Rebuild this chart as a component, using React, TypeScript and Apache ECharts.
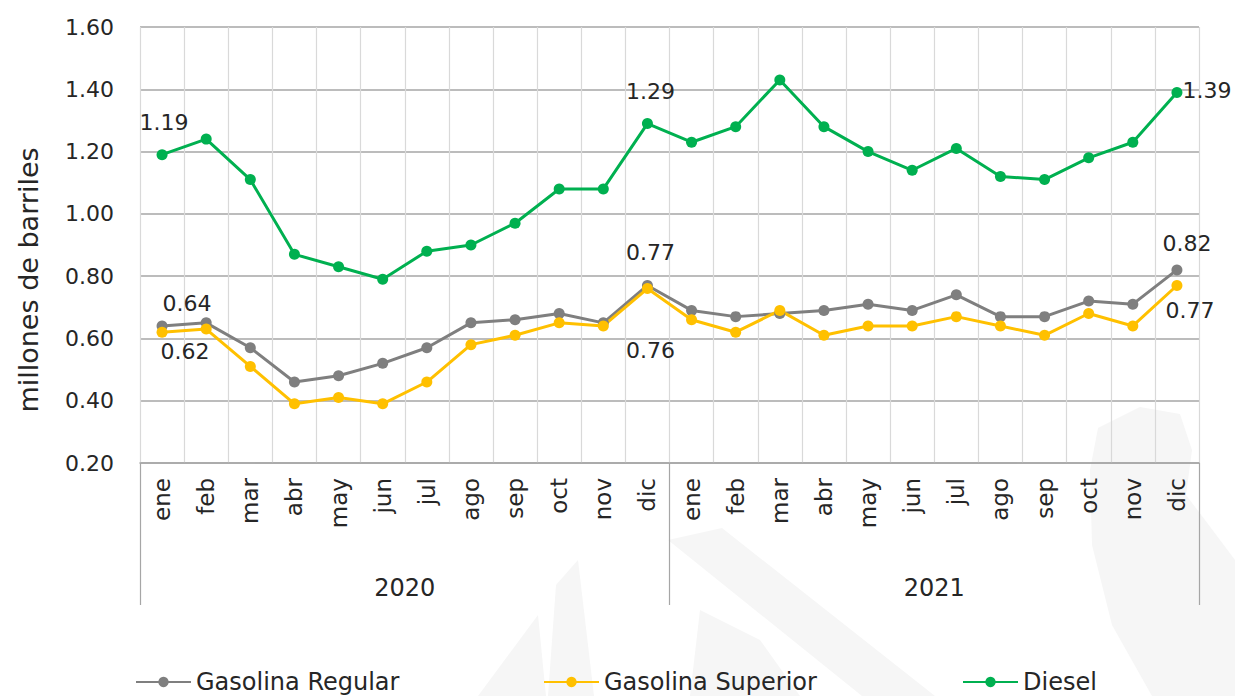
import React, { useEffect, useRef } from "react";
import * as echarts from "echarts";

const months = ["ene","feb","mar","abr","may","jun","jul","ago","sep","oct","nov","dic","ene","feb","mar","abr","may","jun","jul","ago","sep","oct","nov","dic"];
const years = ["2020", "2021"];
const yTicks = { min: 0.2, max: 1.6, interval: 0.2 };

const regular = [0.64,0.65,0.57,0.46,0.48,0.52,0.57,0.65,0.66,0.68,0.65,0.77,0.69,0.67,0.68,0.69,0.71,0.69,0.74,0.67,0.67,0.72,0.71,0.82];
const superior = [0.62,0.63,0.51,0.39,0.41,0.39,0.46,0.58,0.61,0.65,0.64,0.76,0.66,0.62,0.69,0.61,0.64,0.64,0.67,0.64,0.61,0.68,0.64,0.77];
const diesel = [1.19,1.24,1.11,0.87,0.83,0.79,0.88,0.90,0.97,1.08,1.08,1.29,1.23,1.28,1.43,1.28,1.20,1.14,1.21,1.12,1.11,1.18,1.23,1.39];

const seriesNames = ["Gasolina Regular", "Gasolina Superior", "Diesel"];
const seriesColors = ["#7f7f7f", "#ffc000", "#00b050"];

// labelled points: index -> offset [dx, dy] from point centre
const regularLabels: Record<number, number[]> = { 0: [25, -22], 11: [3, -33], 23: [10, -26] };
const superiorLabels: Record<number, number[]> = { 0: [23, 19], 11: [3, 62], 23: [13, 25] };
const dieselLabels: Record<number, number[]> = { 0: [2, -32], 11: [3, -32], 23: [30, -2] };

const FONT = "DejaVu Sans";

function buildData(values: number[], labels: Record<number, number[]>) {
  return values.map((v, i) =>
    labels[i]
      ? {
          value: v,
          label: {
            show: true,
            position: "inside",
            offset: labels[i],
            formatter: (p: any) => Number(p.value).toFixed(2),
            color: "#262626",
            fontSize: 22,
            fontFamily: FONT,
          },
        }
      : v
  );
}

export default function App() {
  const ref = useRef<HTMLDivElement>(null);
  useEffect(() => {
    if (!ref.current) return;
    const chart = echarts.init(ref.current, undefined, { renderer: "svg" });
    const wm = "#f6f6f6";
    const mkLine = (name: string, color: string, data: any[]) => ({
      name,
      type: "line",
      data,
      xAxisIndex: 0,
      symbol: "circle",
      symbolSize: 11,
      lineStyle: { color, width: 3 },
      itemStyle: { color },
      z: 3,
    });
    const legendBase = {
      top: 670,
      padding: 0,
      itemWidth: 55,
      itemHeight: 13,
      textStyle: { fontSize: 24, fontFamily: FONT, color: "#262626" },
    };
    chart.setOption({
      animation: false,
      backgroundColor: "#ffffff",
      textStyle: { fontFamily: FONT },
      grid: { left: 140, right: 36, top: 27, bottom: 233, containLabel: false },
      graphic: [
        { type: "polygon", z: -10, silent: true, shape: { points: [[668, 540], [722, 528], [935, 696], [862, 696]] }, style: { fill: wm } },
        { type: "polygon", z: -10, silent: true, shape: { points: [[548, 696], [556, 585], [578, 560], [594, 696]] }, style: { fill: wm } },
        { type: "polygon", z: -10, silent: true, shape: { points: [[478, 696], [538, 615], [546, 696]] }, style: { fill: wm } },
        { type: "polygon", z: -10, silent: true, shape: { points: [[700, 610], [760, 640], [800, 696], [690, 696]] }, style: { fill: wm } },
        { type: "polygon", z: -10, silent: true, shape: { points: [[1090, 470], [1098, 428], [1140, 407], [1180, 414], [1192, 450], [1186, 495], [1205, 520], [1235, 560], [1235, 696], [1152, 696], [1112, 625], [1092, 545]] }, style: { fill: wm } },
        {
          type: "text",
          x: 28,
          y: 280,
          rotation: Math.PI / 2,
          style: {
            text: "millones de barriles",
            fontSize: 27,
            fontFamily: FONT,
            fill: "#262626",
            align: "center",
            verticalAlign: "middle",
          },
        },
      ],
      legend: [
        { ...legendBase, left: 135, data: [seriesNames[0]] },
        { ...legendBase, left: 543, data: [seriesNames[1]] },
        { ...legendBase, left: 962, data: [seriesNames[2]] },
      ],
      xAxis: [
        {
          type: "category",
          data: months,
          boundaryGap: true,
          axisLine: { show: true, lineStyle: { color: "#a6a6a6", width: 1.5 } },
          axisTick: { show: false },
          splitLine: { show: true, lineStyle: { color: "#d9d9d9", width: 1.2 } },
          axisLabel: {
            rotate: 90,
            margin: 15,
            interval: 0,
            fontSize: 23,
            fontFamily: FONT,
            color: "#262626",
          },
        },
        {
          type: "category",
          data: years,
          position: "bottom",
          boundaryGap: true,
          axisLine: { show: false },
          axisTick: { show: true, length: 142, lineStyle: { color: "#a6a6a6", width: 1.2 } },
          splitLine: { show: false },
          axisLabel: {
            margin: 113,
            fontSize: 24,
            fontFamily: FONT,
            color: "#262626",
          },
        },
      ],
      yAxis: {
        type: "value",
        min: yTicks.min,
        max: yTicks.max,
        interval: yTicks.interval,
        axisLine: { show: false },
        axisTick: { show: false },
        splitLine: { show: true, lineStyle: { color: "#a6a6a6", width: 1.5 } },
        axisLabel: {
          margin: 26,
          fontSize: 22,
          fontFamily: FONT,
          color: "#262626",
          formatter: (v: number) => v.toFixed(2),
        },
      },
      series: [
        mkLine(seriesNames[0], seriesColors[0], buildData(regular, regularLabels)),
        mkLine(seriesNames[1], seriesColors[1], buildData(superior, superiorLabels)),
        mkLine(seriesNames[2], seriesColors[2], buildData(diesel, dieselLabels)),
      ],
    });
    return () => chart.dispose();
  }, []);
  return (
    <div
      ref={ref}
      style={{ position: "absolute", left: 0, top: 0, width: 1235, height: 696, background: "#fff" }}
    />
  );
}
